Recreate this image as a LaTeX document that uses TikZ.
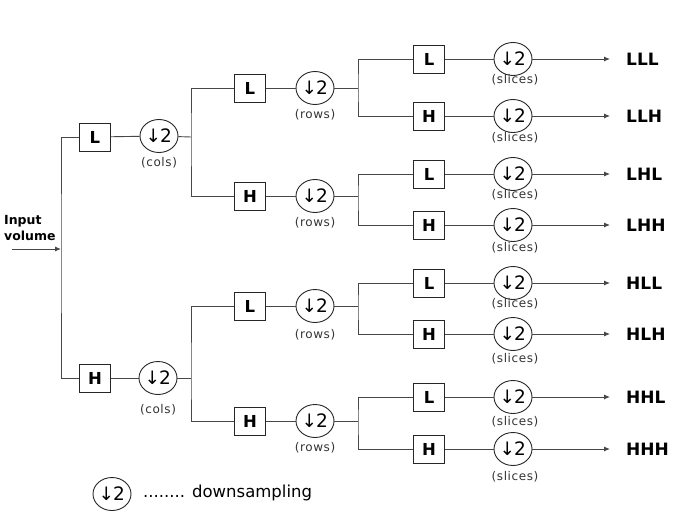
\documentclass[tikz,border=0pt]{standalone}
\usepackage{fontspec}
\setmainfont{DejaVu Sans}
\usetikzlibrary{shapes.geometric,arrows.meta}
\begin{document}
\begin{tikzpicture}[x=1pt,y=-1pt,
  wire/.style={draw=black!72,line width=0.9pt},
  filt/.style={draw=black!85,line width=0.9pt,fill=white,minimum width=31pt,minimum height=28pt,inner sep=0pt,font=\fontsize{16.5}{16.5}\selectfont\bfseries},
  dsamp/.style={ellipse,draw=black!85,line width=0.9pt,fill=white,minimum width=38pt,minimum height=33pt,inner sep=0pt,font=\fontsize{18.5}{18.5}\selectfont},
  note/.style={font=\fontsize{12}{12}\selectfont\addfontfeature{LetterSpace=5},text=black!80,inner sep=0pt},
  outl/.style={anchor=west,font=\fontsize{17}{17}\selectfont\bfseries,inner sep=0pt},
  arr/.style={wire,-{Latex[length=6pt,width=5pt]}}
]
\useasboundingbox (0,0) rectangle (700,522);

% input
\node[anchor=west,align=left,font=\fontsize{12.5}{16.5}\selectfont\bfseries,inner sep=0pt] (inp) at (4,228) {Input\\volume};
\coordinate (in) at (12,249);
\coordinate (t0) at (61,249);

% level 1
\node[filt] (b1L) at (95,137) {L};
\node[dsamp] (c1L) at (159,136) {\kern-0.5pt↓\kern-1pt2};
\node[note] (n1L) at (159,163) {(cols)};
\node[filt] (b1H) at (95,378) {H};
\node[dsamp] (c1H) at (158,378) {\kern-0.5pt↓\kern-1pt2};
\node[note] (n1H) at (158,410) {(cols)};
\coordinate (s1L) at (191,137);
\coordinate (s1H) at (191,378);

\draw[arr] (in) -- (t0);
\draw[wire] (b1L.west) -| (t0) |- (b1H.west);
\draw[wire] (b1L) -- (c1L);
\draw[wire] (b1H) -- (c1H);
\draw[wire] (c1L) -- (s1L);
\draw[wire] (c1H) -- (s1H);

% level 2
\foreach \g/\l/\y/\n in {LL/L/88/115, LH/H/196/223, HL/L/306/335, HH/H/421/448} {
  \node[filt] (b2\g) at (250,\y) {\l};
  \node[dsamp] (c2\g) at (315,\y) {\kern-0.5pt↓\kern-1pt2};
  \node[note] (n2\g) at (315,\n) {(rows)};
  \coordinate (s2\g) at (358,\y);
  \draw[wire] (b2\g) -- (c2\g);
  \draw[wire] (c2\g) -- (s2\g);
}
\draw[wire] (b2LL.west) -| (s1L) |- (b2LH.west);
\draw[wire] (b2HL.west) -| (s1H) |- (b2HH.west);

% level 3
\foreach \g/\ya/\yb/\sa/\sb in {LL/59/116/80/138, LH/174/225/195/248, HL/283/334/304/359, HH/397/449/422/477} {
  \node[filt] (b3\g L) at (429,\ya) {L};
  \node[filt] (b3\g H) at (429,\yb) {H};
  \draw[wire] (b3\g L.west) -| (s2\g) |- (b3\g H.west);
  \foreach \k/\yy/\ss in {L/\ya/\sa, H/\yb/\sb} {
    \node[dsamp] (c3\g\k) at (513,\yy) {\kern-0.5pt↓\kern-1pt2};
    \node[note] (n3\g\k) at (515,\ss) {(slices)};
    \coordinate (e\g\k) at (610,\yy);
    \node[outl] (o\g\k) at (626,\yy) {\g\k};
    \draw[wire] (b3\g\k) -- (c3\g\k);
    \draw[arr] (c3\g\k) -- (e\g\k);
  }
}

% legend
\node[dsamp] (lg) at (112,494) {\kern-0.5pt↓\kern-1pt2};
\node[anchor=west,font=\fontsize{16.5}{16.5}\selectfont,inner sep=0pt] (lgt) at (143,493) {........ downsampling};
\end{tikzpicture}
\end{document}
